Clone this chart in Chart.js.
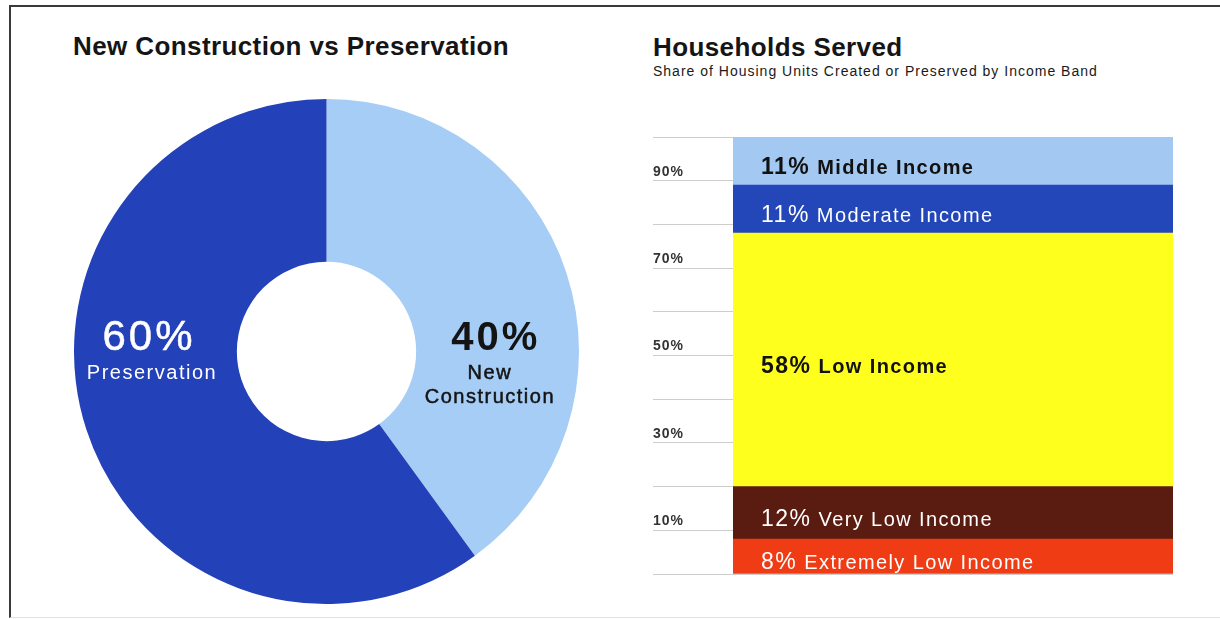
<!DOCTYPE html>
<html>
<head>
<meta charset="utf-8">
<script src="https://cdn.jsdelivr.net/npm/chart.js@4"></script>
<style>
  body { margin: 0; width: 1220px; height: 619px; background: #fff; overflow: hidden; position: relative;
         font-family: "Liberation Sans", Arial, sans-serif; }
  .frame { position: absolute; left: 9px; top: 5px; width: 1220px; height: 610px;
           border-top: 2px solid #3a3a3a; border-left: 2px solid #3a3a3a; border-bottom: 1px solid #e2e2e2; }
  .title { position: absolute; margin: 0; font-size: 26px; line-height: 26px; font-weight: bold;
           color: #151515; letter-spacing: 0.4px; white-space: nowrap; }
  .subtitle { position: absolute; margin: 0; font-size: 14px; line-height: 14px; color: #1a1a1a;
              letter-spacing: 1px; white-space: nowrap; }
  .box { position: absolute; }
</style>
</head>
<body>
<div class="frame"></div>
<div class="title" style="left:73px; top:33px;">New Construction vs Preservation</div>
<div class="title" style="left:653px; top:34px;">Households Served</div>
<div class="subtitle" style="left:653px; top:64px;">Share of Housing Units Created or Preserved by Income Band</div>
<div class="box" style="left:74px; top:99px;"><canvas id="mixChart" width="505" height="505"></canvas></div>
<div class="box" style="left:653px; top:125px;"><canvas id="bandChart" width="520" height="459"></canvas></div>

<script>
const FONT = '"Liberation Sans", Arial, sans-serif';

// new construction vs preservation (% of units)
const mixLabels = ['New Construction', 'Preservation'];
const mixShares = [40, 60];

// income bands, stacked bottom to top (% of units)
const bandNames = ['Extremely Low Income', 'Very Low Income', 'Low Income', 'Moderate Income', 'Middle Income'];
const bandShares = [8, 12, 58, 11, 11];
const bandTicks = [10, 30, 50, 70, 90];

const mixColors = ['#a6cdf5', '#2341b8'];
const mixText = [
  { color: '#141414', pct: 'bold 40px ' + FONT, line: '20px ' + FONT, heavy: true },
  { color: '#ffffff', pct: '42px ' + FONT, line: '20px ' + FONT, heavy: false }
];
const bandColors = ['#ef3c15', '#5a1b10', '#ffff1e', '#2346b8', '#a3c9f2'];
const bandText = [
  { color: '#ffffff', weight: '' },
  { color: '#ffffff', weight: '' },
  { color: '#111111', weight: 'bold ' },
  { color: '#ffffff', weight: '' },
  { color: '#111111', weight: 'bold ' }
];

// percentage + name written across the middle of each doughnut slice
const sliceLabels = {
  id: 'sliceLabels',
  afterDatasetsDraw(chart) {
    const ctx = chart.ctx;
    chart.getDatasetMeta(0).data.forEach((arc, i) => {
      const mid = (arc.startAngle + arc.endAngle) / 2;
      const side = Math.cos(mid) >= 0 ? 1 : -1;
      const r = (arc.innerRadius + arc.outerRadius) / 2;
      const x = arc.x + side * r * (side > 0 ? 0.955 : 1.02);
      const st = mixText[i];
      ctx.save();
      ctx.fillStyle = st.color;
      ctx.strokeStyle = st.color;
      ctx.lineWidth = 0.5;
      ctx.textAlign = 'center';
      ctx.textBaseline = 'alphabetic';
      ctx.font = st.pct;
      ctx.letterSpacing = '3px';
      ctx.fillText(mixShares[i] + '%', x + (side > 0 ? 6 : -3), arc.y - 2);
      if (!st.heavy) ctx.strokeText(mixShares[i] + '%', x - 3, arc.y - 2);
      ctx.font = st.line;
      ctx.letterSpacing = '1.5px';
      mixLabels[i].split(' ').forEach((word, k) => {
        const y = arc.y + 27 + k * 24;
        ctx.fillText(word, x, y);
        if (st.heavy) ctx.strokeText(word, x, y);
      });
      ctx.restore();
    });
  }
};

new Chart(document.getElementById('mixChart'), {
  type: 'doughnut',
  data: {
    labels: mixLabels,
    datasets: [{ data: mixShares, backgroundColor: mixColors, borderWidth: 0, hoverOffset: 0 }]
  },
  options: {
    responsive: false,
    animation: false,
    cutout: '35.5%',
    layout: { padding: 0 },
    plugins: { legend: { display: false }, tooltip: { enabled: false } }
  },
  plugins: [sliceLabels]
});

// "NN% Band name" inside each stacked segment
const segmentLabels = {
  id: 'segmentLabels',
  beforeDraw(chart) {
    chart.ctx.letterSpacing = '1px';
  },
  afterDatasetsDraw(chart) {
    const ctx = chart.ctx;
    const x = chart.chartArea.left + 28;
    chart.data.datasets.forEach((ds, i) => {
      const bar = chart.getDatasetMeta(i).data[0];
      const y = (bar.y + bar.base) / 2 + 13;
      const st = bandText[i];
      ctx.save();
      ctx.fillStyle = st.color;
      ctx.textAlign = 'left';
      ctx.textBaseline = 'alphabetic';
      ctx.font = st.weight + '23px ' + FONT;
      ctx.letterSpacing = '1.5px';
      const pct = bandShares[i] + '%';
      ctx.fillText(pct, x, y);
      const w = ctx.measureText(pct).width;
      ctx.font = st.weight + '20px ' + FONT;
      ctx.letterSpacing = '1.4px';
      ctx.fillText(ds.label, x + w + 7, y);
      ctx.restore();
    });
  }
};

new Chart(document.getElementById('bandChart'), {
  type: 'bar',
  data: {
    labels: ['Households'],
    datasets: bandNames.map((name, i) => ({
      label: name,
      data: [bandShares[i]],
      backgroundColor: bandColors[i],
      borderWidth: 0,
      barPercentage: 1,
      categoryPercentage: 1
    }))
  },
  options: {
    responsive: false,
    animation: false,
    layout: { padding: { top: 12, bottom: 10, left: 0, right: 0 } },
    plugins: { legend: { display: false }, tooltip: { enabled: false } },
    scales: {
      x: { stacked: true, display: false },
      y: {
        stacked: true,
        min: 0,
        max: 100,
        afterFit: (scale) => { scale.width = 80; },
        border: { display: false },
        grid: { color: '#cdcdcd', lineWidth: 1, drawTicks: true, tickLength: 80 },
        ticks: {
          stepSize: 10,
          autoSkip: false,
          padding: 0,
          crossAlign: 'far',
          labelOffset: -9,
          color: '#333333',
          font: { family: FONT, size: 14, weight: 'bold' },
          callback: (v) => bandTicks.includes(v) ? v + '%' : ''
        }
      }
    }
  },
  plugins: [segmentLabels]
});
</script>
</body>
</html>
